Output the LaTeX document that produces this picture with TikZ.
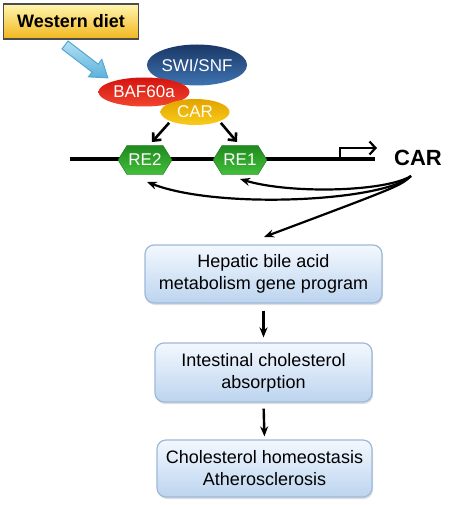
\documentclass[tikz,border=0pt]{standalone}
\usepackage{fontspec}
\setmainfont{Liberation Sans}
\usetikzlibrary{arrows.meta,shapes.geometric,shadows}
\definecolor{boxtop}{HTML}{F3F8FE}
\definecolor{boxbot}{HTML}{BCD4EF}
\definecolor{boxline}{HTML}{9DB9DA}
\definecolor{dietTop}{HTML}{FFF6B0}
\definecolor{dietBot}{HTML}{F2B61C}
\definecolor{swiTop}{HTML}{1A3766}
\definecolor{swiBot}{HTML}{3E74B2}
\definecolor{bafTop}{HTML}{D4140F}
\definecolor{bafBot}{HTML}{F2452F}
\definecolor{carTop}{HTML}{E3A300}
\definecolor{carBot}{HTML}{F8CC1A}
\definecolor{reTop}{HTML}{1F8A1F}
\definecolor{reBot}{HTML}{43BF3A}
\definecolor{blArTop}{HTML}{B2E0F4}
\definecolor{blArBot}{HTML}{5CB2DA}
\definecolor{blArLine}{HTML}{56A6D2}
\tikzset{
  pbox/.style={draw=boxline, line width=1.2pt, rounded corners=9pt, top color=boxtop, bottom color=boxbot,
    align=center, inner sep=0pt, font=\fontsize{18}{22}\selectfont,
    drop shadow={opacity=0.25, shadow xshift=1pt, shadow yshift=-2pt}},
  prot/.style={ellipse, inner sep=0pt, text=white, font=\fontsize{17}{20}\selectfont},
  relabel/.style={inner sep=0pt, text=white, font=\fontsize{17}{20}\selectfont},
  hexfill/.style={top color=reTop, bottom color=reBot, draw=reTop!80!black, line width=0.4pt},
  vopen/.style={line width=2.6pt, -{Straight Barb[length=6pt,width=11pt]}},
  curvearrow/.style={line width=2.2pt, -{Stealth[length=10pt,width=8pt]}},
  downarrow/.style={line width=2.4pt, -{Stealth[length=10pt,width=8pt]}},
}
\begin{document}
\begin{tikzpicture}[x=1pt,y=-1pt]
\useasboundingbox (0,0) rectangle (450,505);

% Western diet box
\node[draw=black!70, line width=1.8pt, top color=dietTop, bottom color=dietBot,
      minimum width=135pt, minimum height=35pt, inner sep=0pt,
      font=\bfseries\fontsize{18}{21}\selectfont] (diet) at (71,21.5) {Western diet};

% hollow blue arrow
\begin{scope}[shift={(65,45)}, rotate=-37.5]
  \path[draw=blArLine, line width=1pt, top color=blArTop, bottom color=blArBot]
    (0,-5) -- (38,-5) -- (38,-11) -- (54,0) -- (38,11) -- (38,5) -- (0,5) -- cycle;
\end{scope}

% proteins
\node[prot, top color=swiTop, bottom color=swiBot, minimum width=91pt, minimum height=41pt,
      font=\fontsize{17}{20}\selectfont] (swi) at (197,65) {SWI/SNF};
\node[prot, top color=bafTop, bottom color=bafBot, minimum width=91pt, minimum height=29pt] (baf) at (144,92) {BAF60a};
\node[prot, top color=carTop, bottom color=carBot, minimum width=69pt, minimum height=26pt,
      text=white!95!yellow] (carp) at (195,112) {CAR};

% DNA line and promoter
\coordinate (dnaL) at (70,159);
\coordinate (dnaR) at (375,159);
\coordinate (tss) at (340,159);
\draw[line width=3.4pt] (dnaL) -- (dnaR);
\draw[line width=2.2pt, -{Straight Barb[length=6pt,width=13pt]}] (tss) -- ++(0,-11) -- ++(37,0);

% response elements
\path[hexfill] (118,160) -- (127,145.5) -- (163,145.5) -- (172,160) -- (163,174.5) -- (127,174.5) -- cycle;
\path[hexfill] (213,160) -- (222,145.5) -- (258,145.5) -- (267,160) -- (258,174.5) -- (222,174.5) -- cycle;
\node[relabel] (re2) at (145,160) {RE2};
\node[relabel] (re1) at (240,160) {RE1};

% CAR binds REs
\coordinate (re2in) at (152,142);
\coordinate (re1in) at (237,142);
\draw[vopen, shorten <=2pt] (carp.south west) -- (re2in);
\draw[vopen, shorten <=2pt] (carp.south east) -- (re1in);

% CAR gene label
\node[font=\bfseries\fontsize{22}{26}\selectfont, inner sep=0pt] (cargene) at (418,158) {CAR};
\coordinate (cs) at (411,176);
\coordinate (re2tip) at (147,182);
\coordinate (re1tip) at (240,179);
\coordinate (hepin) at (264,237);
\draw[curvearrow] (cs) .. controls (385,201) and (220,210) .. (re2tip);
\draw[curvearrow] (cs) .. controls (385,192) and (290,194) .. (re1tip);
\draw[curvearrow] (cs) .. controls (400,186) .. (hepin);

% program boxes
\node[pbox, minimum width=237pt, minimum height=58pt] (hep) at (263.5,274) {Hepatic bile acid\\metabolism gene program};
\node[pbox, minimum width=217pt, minimum height=59pt] (int) at (263.5,372.5) {Intestinal cholesterol\\absorption};
\node[pbox, minimum width=215pt, minimum height=57pt] (chol) at (264.5,468.5) {Cholesterol homeostasis\\Atherosclerosis};

\draw[downarrow, shorten <=7pt, shorten >=5pt] (hep.south) -- (int.north);
\draw[downarrow, shorten <=6pt, shorten >=3pt] (int.south) -- (chol.north);
\end{tikzpicture}
\end{document}
